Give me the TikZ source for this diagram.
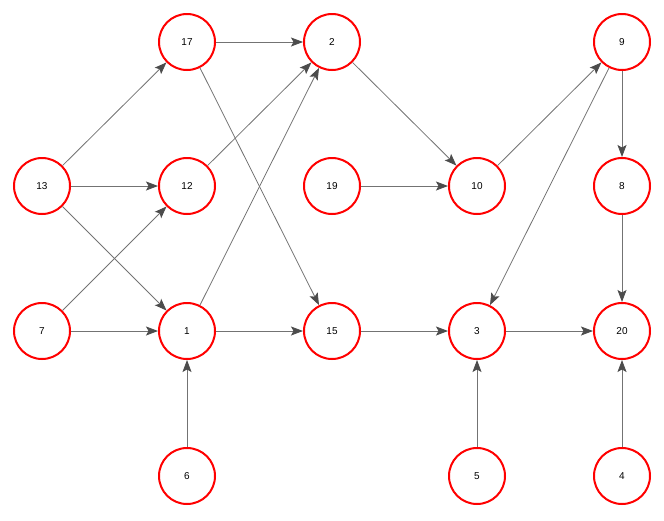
\documentclass[tikz,border=0pt]{standalone}
\usepackage{fontspec}
\setmainfont{Liberation Sans}
\usetikzlibrary{arrows.meta}
\begin{document}
\begin{tikzpicture}[x=1pt,y=-1pt,
  vert/.style={circle,draw=red,line width=2pt,fill=white,minimum size=56pt,inner sep=0pt,font=\fontsize{10}{12}\selectfont},
  edge/.style={draw=black!55,line width=0.8pt,-{Stealth[length=12pt,width=9pt,inset=2.5pt,color=black!70]}}]
\useasboundingbox (0,0) rectangle (664,520);
\node[vert] (n17) at (187,42) {17};
\node[vert] (n2) at (332,42) {2};
\node[vert] (n9) at (622,42) {9};
\node[vert] (n13) at (42,186) {13};
\node[vert] (n12) at (187,186) {12};
\node[vert] (n19) at (332,186) {19};
\node[vert] (n10) at (477,186) {10};
\node[vert] (n8) at (622,186) {8};
\node[vert] (n7) at (42,331) {7};
\node[vert] (n1) at (187,331) {1};
\node[vert] (n15) at (332,331) {15};
\node[vert] (n3) at (477,331) {3};
\node[vert] (n20) at (622,331) {20};
\node[vert] (n6) at (187,476) {6};
\node[vert] (n5) at (477,476) {5};
\node[vert] (n4) at (622,476) {4};
\foreach \a/\b in {n17/n2,n17/n15,n13/n17,n13/n12,n13/n1,n12/n2,n7/n12,n7/n1,n1/n2,n1/n15,n6/n1,n2/n10,n19/n10,n10/n9,n9/n8,n9/n3,n8/n20,n15/n3,n3/n20,n5/n3,n4/n20}
  \draw[edge] (\a) -- (\b);
\end{tikzpicture}
\end{document}
